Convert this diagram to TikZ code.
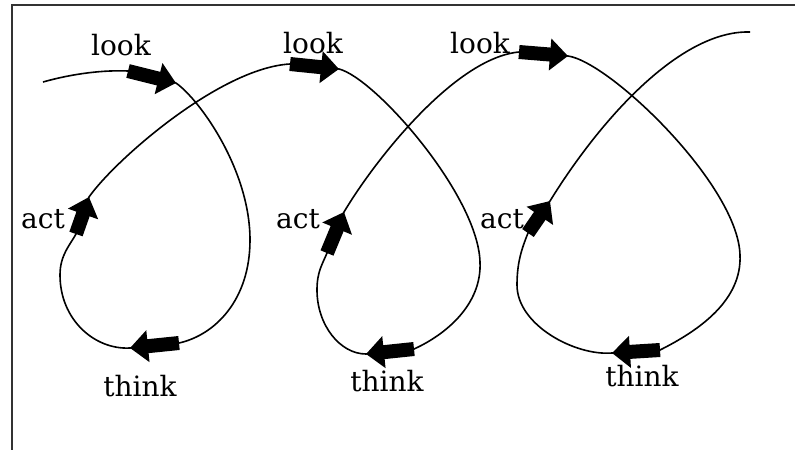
\documentclass[tikz,border=0pt]{standalone}
\usepackage{fontspec}
\setmainfont{DejaVu Serif}
\usepackage{tikz}
\usetikzlibrary{arrows.meta}

\begin{document}
\begin{tikzpicture}[x={(1pt,0pt)},y={(0pt,-1pt)},
    blk/.style={line width=14pt,-{Triangle[length=18pt,width=31pt]}},
    lbl/.style={anchor=base,inner sep=0pt,font=\fontsize{28}{30}\selectfont}]
  \useasboundingbox (0,0) rectangle (795,450);
  % frame (cut at right and bottom)
  \draw[line width=2.8pt,black!80] (795,5) -- (12,5) -- (12,450);
  % points where the arrows sit
  \coordinate (lk1s) at (128,71);  \coordinate (lk1e) at (176,83);
  \coordinate (th1s) at (179,343); \coordinate (th1e) at (130,348);
  \coordinate (ac1s) at (76,234);  \coordinate (ac1e) at (89,197);
  \coordinate (lk2s) at (290,64);  \coordinate (lk2e) at (339,69);
  \coordinate (th2s) at (414,349); \coordinate (th2e) at (366,354);
  \coordinate (ac2s) at (327,253); \coordinate (ac2e) at (344,212);
  \coordinate (lk3s) at (519,52);  \coordinate (lk3e) at (568,56);
  \coordinate (th3s) at (660,350); \coordinate (th3e) at (612,353);
  \coordinate (ac3s) at (528,233); \coordinate (ac3e) at (550,201);
  % the cycle
  \draw[line width=1.6pt,line join=round]
    (43,82) .. controls (75,73) and (105,70) .. (lk1s) -- (lk1e)
    .. controls (200,100) and (250,170) .. (250,240)
    .. controls (250,300) and (215,335) .. (th1s) -- (th1e)
    .. controls (95,350) and (60,320) .. (60,275)
    .. controls (60,255) and (70,245) .. (ac1s) -- (ac1e)
    .. controls (115,160) and (220,68) .. (lk2s) -- (lk2e)
    .. controls (375,78) and (478,195) .. (480,262)
    .. controls (482,305) and (445,335) .. (th2s) -- (th2e)
    .. controls (340,354) and (317,325) .. (317,290)
    .. controls (317,272) and (322,265) .. (ac2s) -- (ac2e)
    .. controls (375,160) and (455,58) .. (lk3s) -- (lk3e)
    .. controls (610,62) and (738,185) .. (740,255)
    .. controls (742,300) and (700,330) .. (th3s) -- (th3e)
    .. controls (575,356) and (517,325) .. (517,285)
    .. controls (517,262) and (522,248) .. (ac3s) -- (ac3e)
    .. controls (600,120) and (680,30) .. (750,32);
  % arrows
  \draw[blk] (lk1s) -- (lk1e);
  \draw[blk] (th1s) -- (th1e);
  \draw[blk] (ac1s) -- (ac1e);
  \draw[blk] (lk2s) -- (lk2e);
  \draw[blk] (th2s) -- (th2e);
  \draw[blk] (ac2s) -- (ac2e);
  \draw[blk] (lk3s) -- (lk3e);
  \draw[blk] (th3s) -- (th3e);
  \draw[blk] (ac3s) -- (ac3e);
  % labels
  \node[lbl] (look1) at (121,55) {look};
  \node[lbl] (look2) at (313,53) {look};
  \node[lbl] (look3) at (480,53) {look};
  \node[lbl] (act1) at (43,228) {act};
  \node[lbl] (act2) at (298,228) {act};
  \node[lbl] (act3) at (502,228) {act};
  \node[lbl] (think1) at (140,396) {think};
  \node[lbl] (think2) at (387,391) {think};
  \node[lbl] (think3) at (642,386) {think};
\end{tikzpicture}
\end{document}
